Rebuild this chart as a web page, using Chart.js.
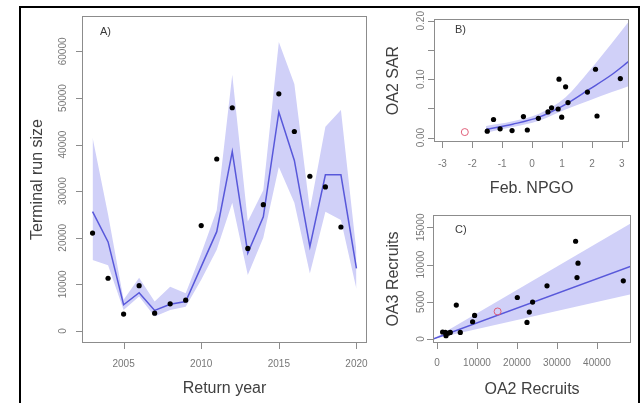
<!DOCTYPE html>
<html><head><meta charset="utf-8">
<script src="https://cdn.jsdelivr.net/npm/chart.js@4"></script>
<style>
html,body{margin:0;padding:0;background:#fff;width:641px;height:403px;overflow:hidden;}
#frame{position:absolute;left:19px;top:6px;width:621px;height:430px;border:2px solid #000;box-sizing:border-box;}
canvas{position:absolute;left:0;top:0;width:641px;height:403px;}
</style></head><body>
<div id="frame"></div>
<canvas id="cA" width="641" height="403"></canvas>
<canvas id="cB" width="641" height="403"></canvas>
<canvas id="cC" width="641" height="403"></canvas>
<script>
// ---------- Panel A: terminal run size ----------
const returnYears = [2003,2004,2005,2006,2007,2008,2009,2010,2011,2012,2013,2014,2015,2016,2017,2018,2019,2020];
const obsYears = [2003,2004,2005,2006,2007,2008,2009,2010,2011,2012,2013,2014,2015,2016,2017,2018,2019];
const obsRun = [21000,11300,3600,9700,3800,5800,6600,22600,36900,47900,17700,27100,50900,42800,33200,30900,22300];
const fitRun = [25600,19100,5600,8200,4400,5700,6300,13800,21300,38500,16700,24500,47000,36600,18100,33500,33500,13400];
const upperRun = [41500,25000,6700,11400,6300,9500,8100,16600,25900,55000,23500,30200,62000,53000,26000,43800,47400,17000];
const lowerRun = [15200,14100,4500,7400,3100,4500,5200,11000,17400,27500,12000,20000,35200,27500,12300,25600,23800,9000];
const aXTicks = [2005,2010,2015,2020];
const aXLabels = ['2005','2010','2015','2020'];
const aYTicks = [0,10000,20000,30000,40000,50000,60000];
const aYLabels = ['0','10000','20000','30000','40000','50000','60000'];

// ---------- Panel B: OA2 SAR vs Feb. NPGO ----------
const npgo = [-1.50,-1.29,-1.07,-0.67,-0.29,-0.16,0.21,0.53,0.65,0.87,0.90,0.99,1.12,1.20,1.85,2.12,2.17,2.95];
const sar  = [0.011,0.031,0.015,0.012,0.036,0.013,0.033,0.044,0.051,0.049,0.100,0.035,0.087,0.060,0.078,0.117,0.037,0.101];
const npgoOut = [-2.25];
const sarOut = [0.0095];
const npgoCurve = [-1.54,-0.65,0.23,1.12,1.89,2.67,3.22];
const sarFit   = [0.014,0.023,0.035,0.057,0.082,0.108,0.130];
const sarUpper = [0.020,0.028,0.041,0.069,0.113,0.162,0.198];
const sarLower = [0.0085,0.018,0.029,0.048,0.063,0.078,0.088];
const bXTicks = [-3,-2,-1,0,1,2,3];
const bXLabels = ['-3','-2','-1','0','1','2','3'];
const bYTicks = [0,0.05,0.10,0.15,0.20];
const bYLabels = ['0.00','','0.10','','0.20'];

// ---------- Panel C: OA3 recruits vs OA2 recruits ----------
const oa2 = [1400,2250,2075,2900,3325,4825,5825,8900,9400,20075,22500,23075,23900,27500,34650,35250,35000,46575];
const oa3 = [940,440,885,800,885,4560,885,2320,3165,5580,2230,3620,4960,7145,13140,10190,8260,7815];
const oa2Out = [15150];
const oa3Out = [3700];
const oa2Line = [-1000,48500];
const oa3Fit = [0,9800];
const oa3Upper = [0,15550];
const oa3Lower = [0,6030];
const cXTicks = [0,10000,20000,30000,40000];
const cXLabels = ['0','10000','20000','30000','40000'];
const cYTicks = [0,5000,10000,15000];
const cYLabels = ['0','5000','10000','15000'];

// ---------- styling ----------
const FONT = "'Liberation Sans', Arial, Helvetica, sans-serif";
const BAND = '#d0d0f8';
const LINE = '#5858da';
const TICKCOL = '#777777';
const TITLECOL = '#404040';
const FRAMECOL = '#8c8c8c';

const xy = (xs, ys) => xs.map((x, i) => ({x: x, y: ys[i]}));

const rFrame = {
  id: 'rframe',
  afterDraw(chart, args, o) {
    const {ctx, chartArea: a} = chart;
    const xs = chart.scales.x, ys = chart.scales.y;
    ctx.save();
    ctx.strokeStyle = FRAMECOL;
    ctx.lineWidth = 1;
    ctx.strokeRect(Math.round(a.left) + 0.5, Math.round(a.top) + 0.5, Math.round(a.width) - 1, Math.round(a.height) - 1);
    ctx.beginPath();
    xs.ticks.forEach(t => {
      const px = Math.round(xs.getPixelForValue(t.value)) + 0.5;
      ctx.moveTo(px, a.bottom); ctx.lineTo(px, a.bottom + 6);
    });
    ys.ticks.forEach(t => {
      const py = Math.round(ys.getPixelForValue(t.value)) + 0.5;
      ctx.moveTo(a.left, py); ctx.lineTo(a.left - 6, py);
    });
    ctx.stroke();
    ctx.fillStyle = TICKCOL;
    ctx.font = '10px ' + FONT;
    ctx.textAlign = 'center';
    ctx.textBaseline = 'middle';
    ys.ticks.forEach((t, i) => {
      const lab = o.yLabels[i];
      if (!lab) return;
      const py = ys.getPixelForValue(t.value);
      ctx.save();
      ctx.translate(o.yLabelX, py);
      ctx.rotate(-Math.PI / 2);
      ctx.fillText(lab, 0, 0);
      ctx.restore();
    });
    ctx.fillStyle = '#3a3a3a';
    ctx.font = '11px ' + FONT;
    ctx.textAlign = 'left';
    ctx.fillText(o.letter, a.left + o.letterDx, a.top + o.letterDy);
    ctx.restore();
  }
};

function makeChart(id, p) {
  return new Chart(document.getElementById(id), {
    type: 'scatter',
    data: {datasets: [
      {data: p.points, pointRadius: 2.6, pointBackgroundColor: '#000', pointBorderWidth: 0, showLine: false},
      {data: p.outlier, pointRadius: 3.5, pointBackgroundColor: 'rgba(0,0,0,0)', pointBorderColor: '#e0607a', pointBorderWidth: 1, showLine: false},
      {data: p.fit, showLine: true, borderColor: LINE, borderWidth: 1.5, pointRadius: 0, fill: false, tension: p.tension, cubicInterpolationMode: p.cubic},
      {data: p.upper, showLine: true, borderWidth: 0, borderColor: 'rgba(0,0,0,0)', pointRadius: 0, backgroundColor: BAND, fill: '+1', tension: p.tension, cubicInterpolationMode: p.cubic},
      {data: p.lower, showLine: true, borderWidth: 0, borderColor: 'rgba(0,0,0,0)', pointRadius: 0, fill: false, tension: p.tension, cubicInterpolationMode: p.cubic}
    ]},
    options: {
      responsive: false,
      animation: false,
      devicePixelRatio: 1,
      layout: {padding: p.pad},
      plugins: {legend: {display: false}, tooltip: {enabled: false},
        rframe: {yLabels: p.yLabels, yLabelX: p.yLabelX, letter: p.letter, letterDx: p.letterDx, letterDy: p.letterDy}},
      scales: {
        x: {type: 'linear', min: p.xMin, max: p.xMax,
          grid: {display: false, drawTicks: false}, border: {display: false},
          afterBuildTicks: s => { s.ticks = p.xTicks.map(v => ({value: v})); },
          afterFit: s => { s.height = p.xH; },
          ticks: {color: TICKCOL, font: {family: FONT, size: 10}, padding: p.xLabPad, maxRotation: 0, autoSkip: false,
            callback: (v, i) => p.xLabels[i]},
          title: {display: true, text: p.xTitle, color: TITLECOL, font: {family: FONT, size: 16}, padding: 0}},
        y: {type: 'linear', min: p.yMin, max: p.yMax,
          grid: {display: false, drawTicks: false}, border: {display: false},
          afterBuildTicks: s => { s.ticks = p.yTicks.map(v => ({value: v})); },
          afterFit: s => { s.width = p.yW; },
          ticks: {display: false},
          title: {display: true, text: p.yTitle, color: TITLECOL, font: {family: FONT, size: 16}, padding: 0}}
      }
    },
    plugins: [rFrame]
  });
}

makeChart('cA', {
  points: xy(obsYears, obsRun), outlier: [], fit: xy(returnYears, fitRun),
  upper: xy(returnYears, upperRun), lower: xy(returnYears, lowerRun),
  tension: 0, cubic: 'default',
  pad: {left: 28, top: 16, right: 274, bottom: 5}, xH: 55, yW: 54, xLabPad: 15,
  xMin: 2002.32, xMax: 2020.68, yMin: -2600, yMax: 67600,
  xTicks: aXTicks, xLabels: aXLabels, yTicks: aYTicks, yLabels: aYLabels, yLabelX: 63,
  xTitle: 'Return year', yTitle: 'Terminal run size', letter: 'A)', letterDx: 18, letterDy: 16
});

makeChart('cB', {
  points: xy(npgo, sar), outlier: xy(npgoOut, sarOut), fit: xy(npgoCurve, sarFit),
  upper: xy(npgoCurve, sarUpper), lower: xy(npgoCurve, sarLower),
  tension: 0.4, cubic: 'monotone',
  pad: {left: 384, top: 19, right: 10, bottom: 205}, xH: 56, yW: 50, xLabPad: 16,
  xMin: -3.28, xMax: 3.25, yMin: -0.0075, yMax: 0.203,
  xTicks: bXTicks, xLabels: bXLabels, yTicks: bYTicks, yLabels: bYLabels, yLabelX: 421.5,
  xTitle: 'Feb. NPGO', yTitle: 'OA2 SAR', letter: 'B)', letterDx: 21, letterDy: 11
});

makeChart('cC', {
  points: xy(oa2, oa3), outlier: xy(oa2Out, oa3Out), fit: xy(oa2Line, oa3Fit),
  upper: xy(oa2Line, oa3Upper), lower: xy(oa2Line, oa3Lower),
  tension: 0, cubic: 'default',
  pad: {left: 384, top: 215, right: 10, bottom: 4}, xH: 56, yW: 49, xLabPad: 14,
  xMin: -1000, xMax: 48500, yMin: -540, yMax: 16670,
  xTicks: cXTicks, xLabels: cXLabels, yTicks: cYTicks, yLabels: cYLabels, yLabelX: 421,
  xTitle: 'OA2 Recruits', yTitle: 'OA3 Recruits', letter: 'C)', letterDx: 22, letterDy: 15
});
</script>
</body></html>
